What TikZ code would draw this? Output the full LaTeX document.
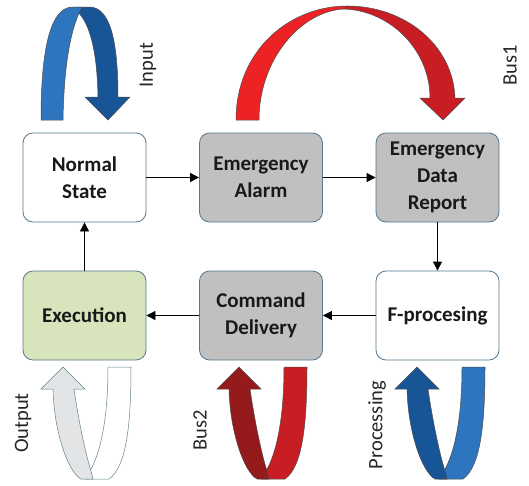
\documentclass[tikz,border=0pt]{standalone}
\usepackage{fontspec}
\setmainfont{Carlito}
\usetikzlibrary{arrows.meta}

\definecolor{boxline}{RGB}{85,120,140}
\definecolor{boxgray}{RGB}{192,192,192}
\definecolor{execgreen}{RGB}{216,228,188}
\definecolor{blueA}{RGB}{46,117,192}
\definecolor{blueB}{RGB}{24,85,150}
\definecolor{redA}{RGB}{236,34,36}
\definecolor{redB}{RGB}{200,30,35}
\definecolor{redC}{RGB}{148,26,28}
\definecolor{greyA}{RGB}{226,228,230}
\definecolor{greyline}{RGB}{100,130,140}

\tikzset{
  state/.style={rectangle, rounded corners=10pt, draw=boxline, line width=0.8pt,
    minimum width=123pt, minimum height=89pt, align=center, text=black!90,
    font=\bfseries\fontsize{21}{27}\selectfont},
  flow/.style={line width=0.8pt, -{Triangle[length=9pt,width=9pt]}},
  tag/.style={rotate=90, text=black!85, font=\fontsize{20.5}{24}\selectfont},
  ribbon/.style={line width=0.5pt, draw=black!70}
}

% U-shaped arrow pointing up, #1 = x of the tip, #2 = front, #3 = back, #4 = outline
\newcommand{\uarrow}[4]{%
  \begin{scope}[shift={(#1,367)}]
    \filldraw[ribbon, draw=#4, fill=#3] (45,0) -- (68,0) .. controls (68,60) and (63,100) .. (46,112)
      -- (22,112) -- (27,104) .. controls (38,85) and (45,50) .. (45,0) -- cycle;
    \filldraw[ribbon, draw=#4, fill=#2] (0,0) -- (22,22) -- (11,22) .. controls (15,50) and (22,85) .. (28,104)
      -- (30,112) -- (18,112) .. controls (5,105) and (-9,65) .. (-10,22) -- (-22,22) -- cycle;
  \end{scope}}

\begin{document}
\begin{tikzpicture}[x=1pt, y=-1pt]
    \useasboundingbox (0,0) rectangle (529,485);

    \node[state, fill=white] (normal) at (84.5,177.5) {Normal\\State};
    \node[state, fill=boxgray] (alarm) at (261,177.5) {Emergency\\Alarm};
    \node[state, fill=boxgray] (report) at (437.5,177.5) {Emergency\\Data\\Report};

    \node[state, fill=execgreen] (exec) at (84.5,315.5) {Execution};
    \node[state, fill=boxgray] (command) at (261,315.5) {Command\\Delivery};
    \node[state, fill=white] (fproc) at (437.5,315.5) {F-procesing};

    \path[flow] (normal) edge (alarm);
    \path[flow] (alarm) edge (report);
    \path[flow] (report) edge (fproc);
    \path[flow] (fproc) edge (command);
    \path[flow] (command) edge (exec);
    \path[flow] (exec) edge (normal);

    % input arrow
    \filldraw[ribbon, fill=blueB] (76,7) -- (90,7) .. controls (110,8) and (118,40) .. (118,97)
      -- (130,97) -- (108,120) -- (85,97) -- (98,97) .. controls (97,50) and (90,25) .. (78,12) -- cycle;
    \filldraw[ribbon, fill=blueA] (41,120) .. controls (41,50) and (50,8) .. (72,7) -- (82,7)
      .. controls (72,25) and (64,60) .. (63,120) -- cycle;

    % bus1 arrow
    \filldraw[ribbon, fill=redB] (347,6) .. controls (405,6) and (453,45) .. (455,98)
      -- (465,98) -- (443,120) -- (420,98) -- (430,98) .. controls (430,50) and (390,10) .. (343,9) -- cycle;
    \filldraw[ribbon, fill=redA] (236,120) .. controls (236,50) and (290,6) .. (347,6)
      -- (343,9) .. controls (300,12) and (259,60) .. (259,120) -- cycle;

    \uarrow{63}{greyA}{white}{greyline}
    \uarrow{239}{redC}{redB}{black!70}
    \uarrow{417}{blueB}{blueA}{black!70}

    \node[tag] (input) at (148,65) {Input};
    \node[tag] (bus1) at (510,65) {Bus1};
    \node[tag] (output) at (23,423) {Output};
    \node[tag] (bus2) at (200,430) {Bus2};
    \node[tag] (processing) at (377,425) {Processing};
\end{tikzpicture}
\end{document}
